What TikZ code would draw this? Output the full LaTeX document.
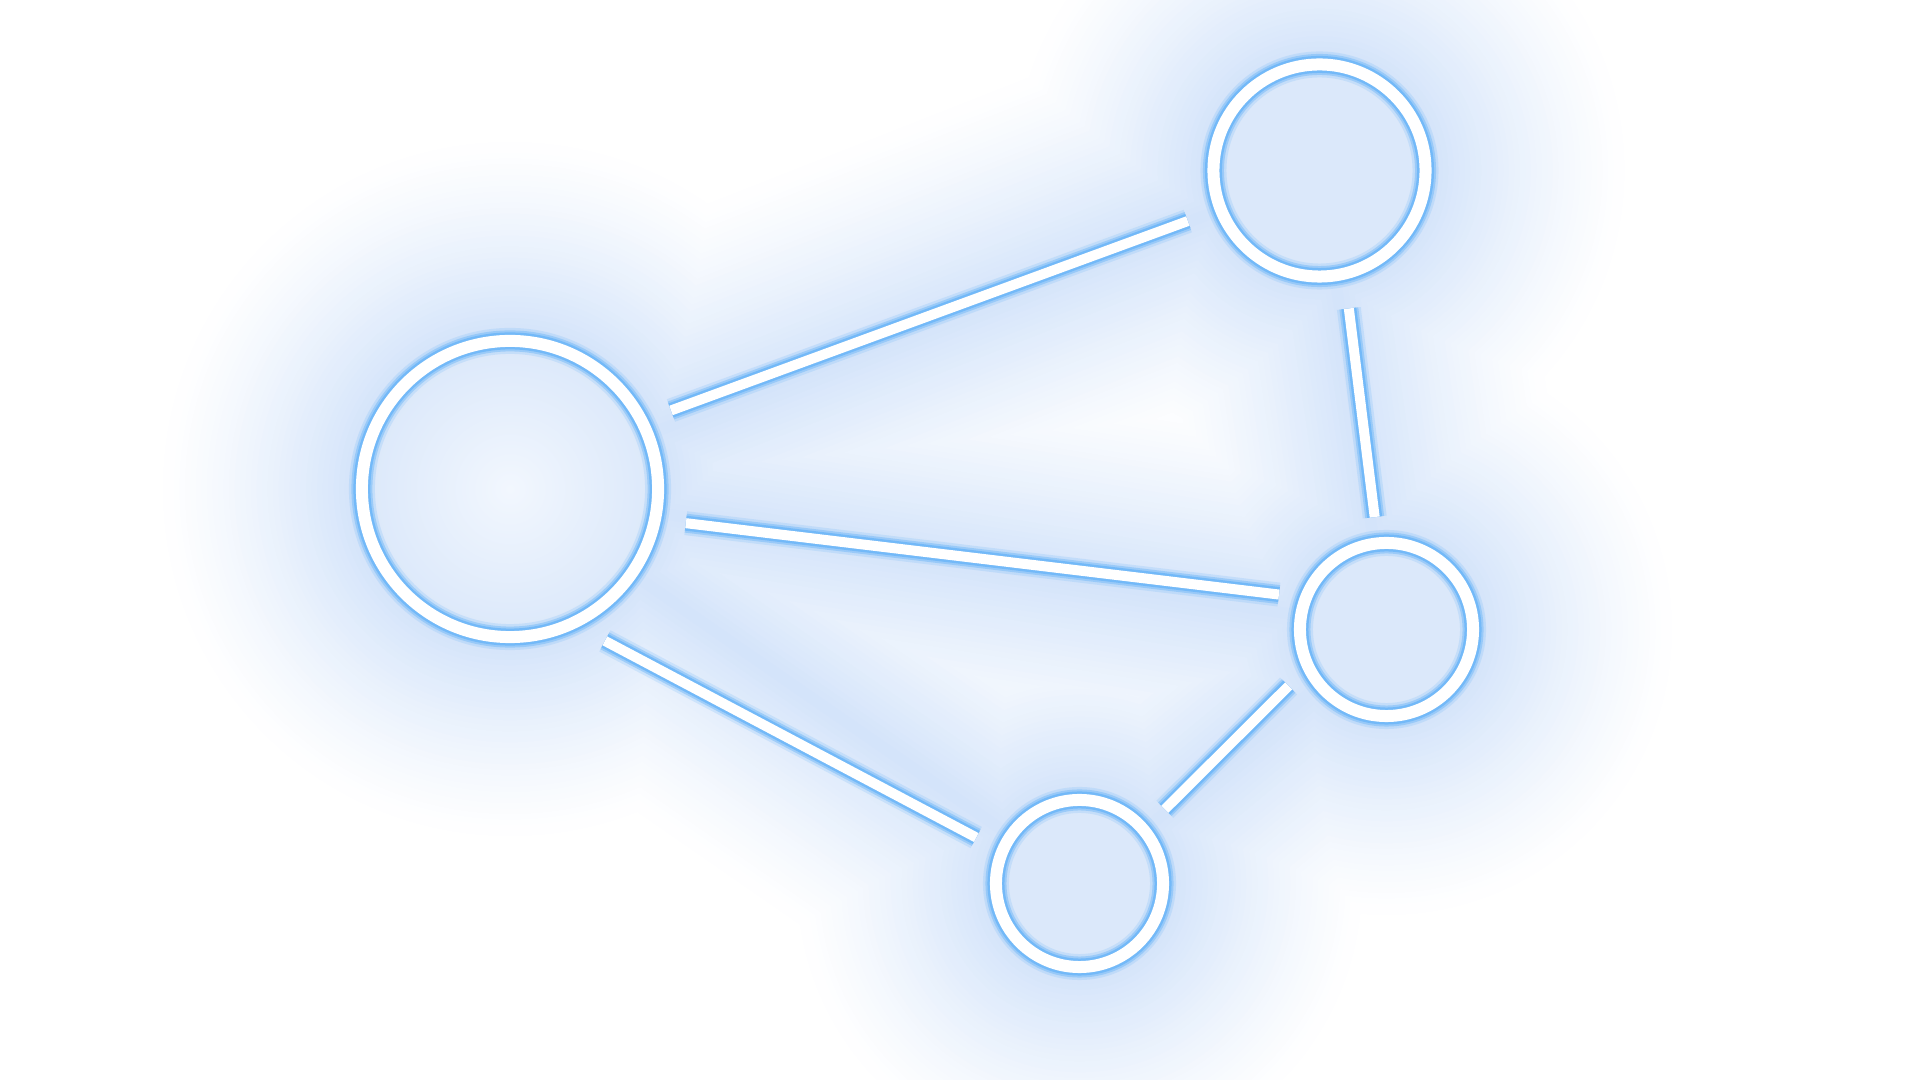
\documentclass[tikz,border=0pt]{standalone}
\usepackage{tikz}
\usetikzlibrary{calc}
\definecolor{glowblue}{RGB}{115,185,248}
\definecolor{haloblue}{RGB}{212,228,250}
\definecolor{innerblue}{RGB}{219,232,250}
\definecolor{paleblue}{RGB}{242,247,254}

\begin{document}
\begin{tikzpicture}[x=0.01cm,y=-0.01cm,
  hub/.style={circle,inner sep=0pt,outer sep=0pt},
  glowa/.style={glowblue,opacity=0.22},
  glowb/.style={glowblue,opacity=0.5},
  glowc/.style={glowblue,opacity=1},
  ring/.style={line width=0.12cm,white},
  edge/.style={line width=0.10cm,white}]
\useasboundingbox[fill=white] (0,0) rectangle (1920,1080);

% nodes (size = where the connectors stop)
\node[hub,minimum size=3.58cm] (A) at (510,489) {};
\node[hub,minimum size=2.82cm] (B) at (1319.5,170.5) {};
\node[hub,minimum size=2.26cm] (C) at (1386.5,629.5) {};
\node[hub,minimum size=2.26cm] (D) at (1079.5,883.5) {};

% soft halo, outside in
\foreach \k in {36,...,1} {
  \pgfmathsetmacro{\grow}{\k*0.055}
  \pgfmathsetmacro{\wide}{\k*0.11}
  \pgfmathtruncatemacro{\mix}{100*((37-\k)/36)^1.3}
  \colorlet{halok}{haloblue!\mix!white}
  \foreach \n/\r in {A/1.54,B/1.12,C/0.925,D/0.895}
    \fill[halok] (\n) circle[radius=\r cm+\grow cm];
  \foreach \a/\b in {A/B,B/C,A/C,A/D,D/C}
    \draw[halok,line width=\wide cm] (\a.center) -- (\b.center);
}

% insides
\shade[inner color=paleblue,outer color=innerblue] (A) circle[radius=1.48cm];
\foreach \n/\r in {B/1.06,C/0.865,D/0.835}
  \fill[innerblue] (\n) circle[radius=\r cm];

% glow, then white
\foreach \st/\rw/\ew in {glowa/0.26/0.24,glowb/0.21/0.19,glowc/0.17/0.15} {
  \foreach \n/\r in {A/1.48,B/1.06,C/0.865,D/0.835}
    \draw[\st,line width=\rw cm] (\n) circle[radius=\r cm];
  \foreach \a/\b in {A.26.9/B.201.6,B.282.2/C.96.3,A.-11.1/C.162,A.-58.5/D.156.3,D.41.4/C.210.6}
    \draw[\st,line width=\ew cm] (\a) -- (\b);
}
\foreach \n/\r in {A/1.48,B/1.06,C/0.865,D/0.835}
  \draw[ring] (\n) circle[radius=\r cm];
\foreach \a/\b in {A.26.9/B.201.6,B.282.2/C.96.3,A.-11.1/C.162,A.-58.5/D.156.3,D.41.4/C.210.6}
  \draw[edge] (\a) -- (\b);
\end{tikzpicture}
\end{document}
